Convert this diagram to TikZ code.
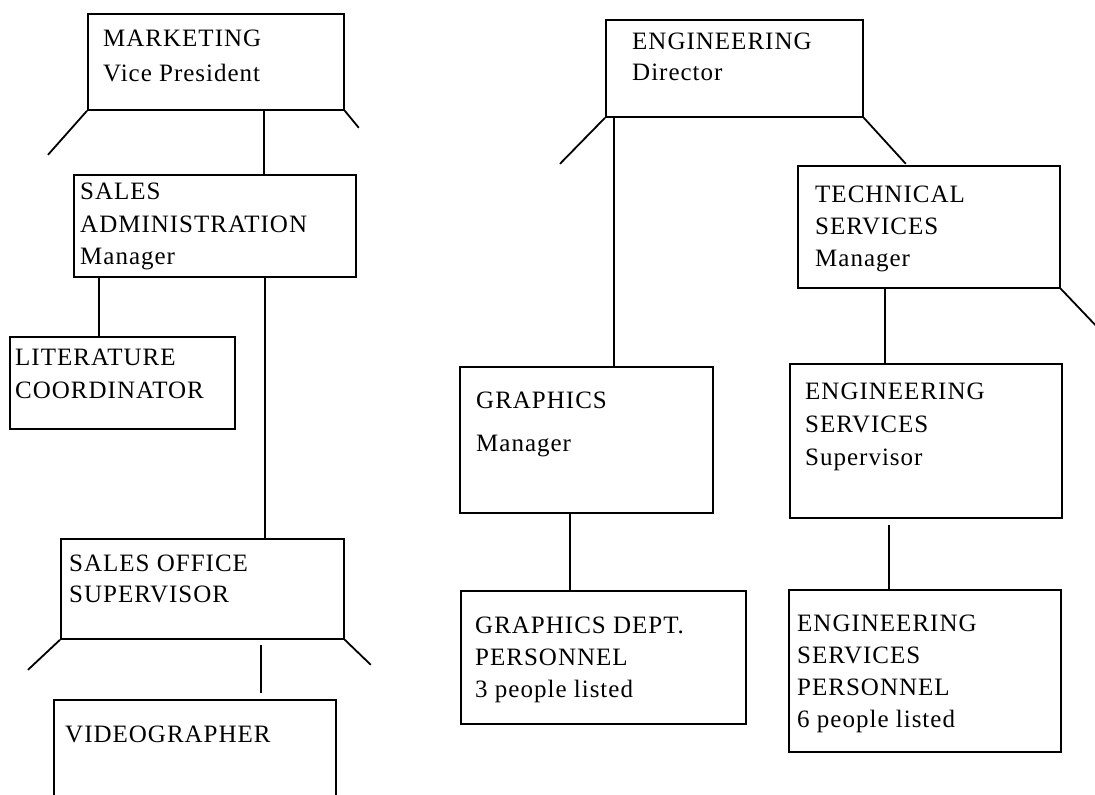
\documentclass[tikz,border=0pt]{standalone}
\usepackage{fontspec}
\setmainfont{Liberation Serif}[LetterSpace=4]
\begin{document}
\begin{tikzpicture}[x=1pt,y=-1pt,
  orgbox/.style={draw, line width=1.8pt, rectangle, inner sep=0pt, anchor=north west},
  txt/.style={anchor=north west, inner sep=0pt, align=left, font=\fontsize{25}{#1}\selectfont},
  txt/.default=32,
  link/.style={line width=1.8pt}]
\clip (0,0) rectangle (1095,795);
\fill[white] (0,0) rectangle (1095,795);

% ---- Marketing branch ----
\node[orgbox, minimum width=256, minimum height=96]  (mkt)   at (87,13)  {};
\node[orgbox, minimum width=282, minimum height=102] (sadm)  at (73,174) {};
\node[orgbox, minimum width=225, minimum height=92]  (lit)   at (9,336)  {};
\node[orgbox, minimum width=283, minimum height=100] (soff)  at (60,538) {};
\node[orgbox, minimum width=282, minimum height=130] (video) at (53,699) {};

\node[txt=35]   (mkt-t)   at (103,30)  {MARKETING\\Vice President};
\node[txt=32.5] (sadm-t)  at (80,183)  {SALES\\ADMINISTRATION\\Manager};
\node[txt=33]   (lit-t)   at (15,349)  {LITERATURE\\COORDINATOR};
\node[txt=31]   (soff-t)  at (69,555)  {SALES OFFICE\\SUPERVISOR};
\node[txt]      (video-t) at (65,726)  {VIDEOGRAPHER};

\draw[link] (mkt.south west) -- ++(-39,44);
\draw[link] (mkt.south east) -- ++(14,17);
\draw[link] ([xshift=177]mkt.south west) -- ([xshift=191]sadm.north west);
\draw[link] ([xshift=26]sadm.south west) -- ([xshift=90]lit.north west);
\draw[link] ([xshift=192]sadm.south west) -- ([xshift=205]soff.north west);
\draw[link] (soff.south west) -- ++(-32,30);
\draw[link] (soff.south east) -- ++(26,25);
\draw[link, shorten <=5pt, shorten >=6pt] ([xshift=201]soff.south west) -- ([xshift=208]video.north west);

% ---- Engineering branch ----
\node[orgbox, minimum width=257, minimum height=97]  (eng)   at (605,19)  {};
\node[orgbox, minimum width=262, minimum height=122] (tech)  at (797,165) {};
\node[orgbox, minimum width=253, minimum height=146] (graph) at (459,366) {};
\node[orgbox, minimum width=285, minimum height=133] (gdept) at (460,590) {};
\node[orgbox, minimum width=272, minimum height=154] (esvc)  at (789,363) {};
\node[orgbox, minimum width=272, minimum height=162] (epers) at (788,589) {};

\node[txt=31] (eng-t)   at (632,33)  {ENGINEERING\\Director};
\node[txt=32] (tech-t)  at (815,186) {TECHNICAL\\SERVICES\\Manager};
\node[txt=43] (graph-t) at (476,392) {GRAPHICS\\Manager};
\node[txt=32] (gdept-t) at (475,617) {GRAPHICS DEPT.\\PERSONNEL\\3 people listed};
\node[txt=33] (esvc-t)  at (805,383) {ENGINEERING\\SERVICES\\Supervisor};
\node[txt=32] (epers-t) at (797,615) {ENGINEERING\\SERVICES\\PERSONNEL\\6 people listed};

\draw[link] (eng.south west) -- ++(-45,46);
\draw[link] (eng.south east) -- ++(42,46);
\draw[link] ([xshift=9]eng.south west) -- ([xshift=155]graph.north west);
\draw[link] ([xshift=88]tech.south west) -- ([xshift=96]esvc.north west);
\draw[link] (tech.south east) -- ++(60,63);
\draw[link] ([xshift=111]graph.south west) -- ([xshift=110]gdept.north west);
\draw[link, shorten <=6pt] ([xshift=100]esvc.south west) -- ([xshift=101]epers.north west);
\end{tikzpicture}
\end{document}
